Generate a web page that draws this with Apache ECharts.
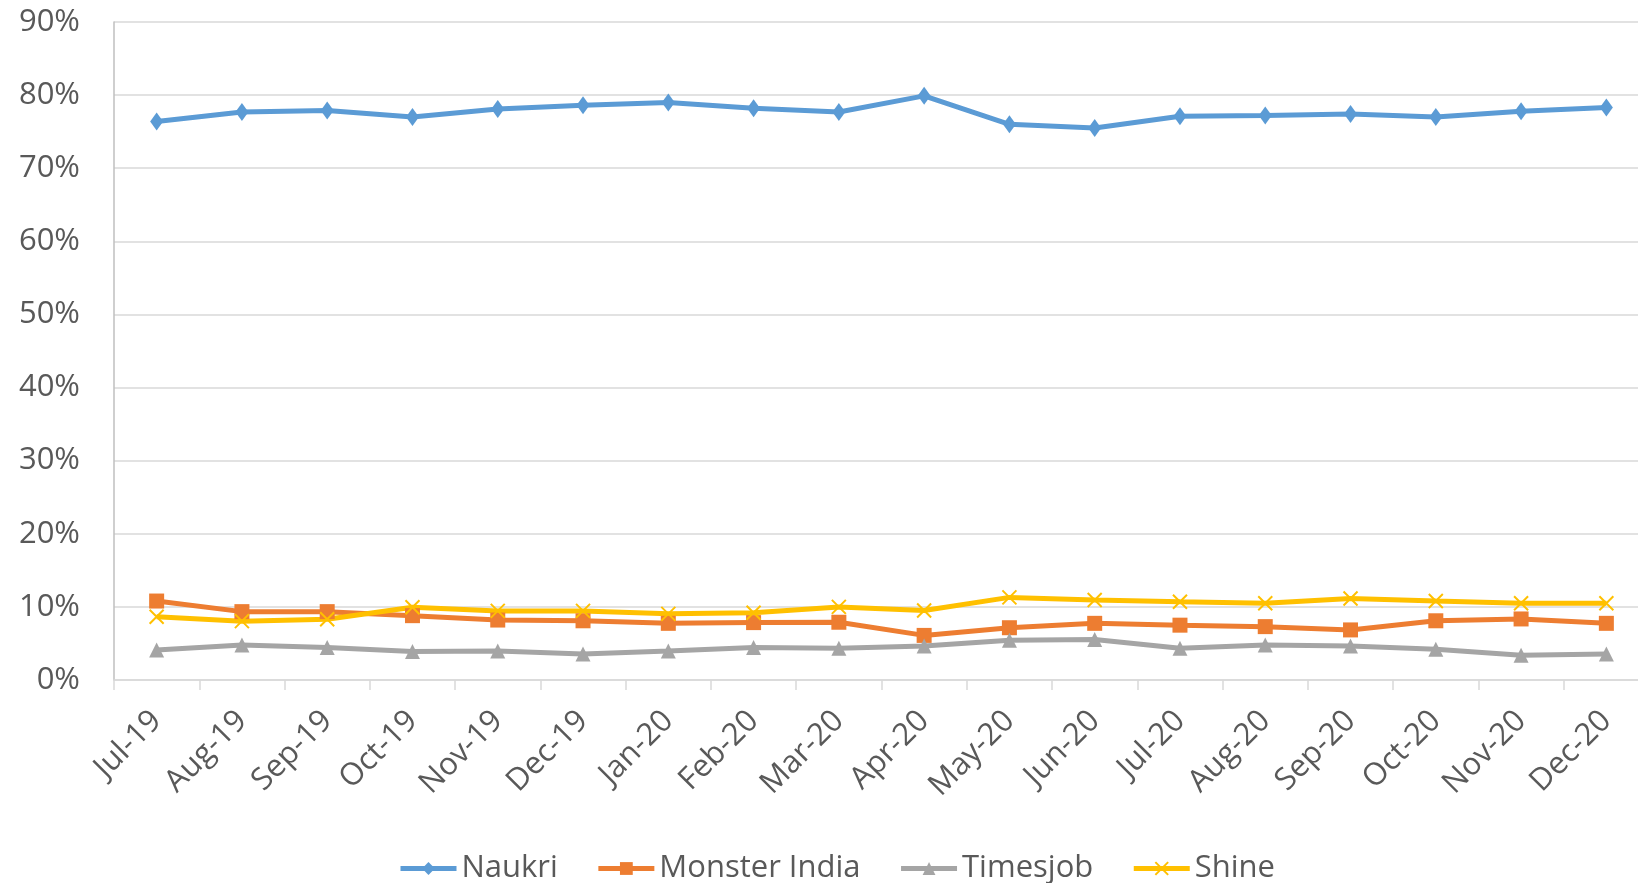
<!DOCTYPE html>
<html>
<head>
<meta charset="utf-8">
<script src="https://cdn.jsdelivr.net/npm/echarts@6/dist/echarts.min.js"></script>
<style>
  html, body { margin: 0; padding: 0; background: #fff; }
</style>
</head>
<body>
<div id="main" style="width: 1638px;height:883px;"></div>
<script type="text/javascript">
    // months along the x axis
    var months = ['Jul-19', 'Aug-19', 'Sep-19', 'Oct-19', 'Nov-19', 'Dec-19', 'Jan-20', 'Feb-20', 'Mar-20',
        'Apr-20', 'May-20', 'Jun-20', 'Jul-20', 'Aug-20', 'Sep-20', 'Oct-20', 'Nov-20', 'Dec-20'];

    // share per portal, in percent
    var naukri = [76.4, 77.7, 77.9, 77.0, 78.1, 78.6, 79.0, 78.2, 77.7, 79.9, 76.0, 75.5, 77.1, 77.2, 77.4, 77.0, 77.8, 78.3];
    var monsterIndia = [10.8, 9.35, 9.35, 8.8, 8.2, 8.1, 7.75, 7.85, 7.9, 6.1, 7.15, 7.75, 7.5, 7.3, 6.85, 8.1, 8.35, 7.75];
    var timesjob = [4.1, 4.8, 4.45, 3.9, 3.95, 3.55, 3.95, 4.45, 4.35, 4.65, 5.45, 5.55, 4.35, 4.8, 4.65, 4.2, 3.4, 3.55];
    var shine = [8.65, 8.05, 8.3, 9.95, 9.45, 9.45, 9.05, 9.2, 10.0, 9.5, 11.3, 10.95, 10.7, 10.5, 11.15, 10.8, 10.5, 10.5];

    var yTicks = [0, 10, 20, 30, 40, 50, 60, 70, 80, 90];

    var textColor = '#595959';
    var fontFamily = '"Open Sans", "Liberation Sans", sans-serif';

    var myChart = echarts.init(document.getElementById('main'));

    function makeSeries(name, data, color, symbol, size) {
        return {
            name: name,
            type: 'line',
            data: data,
            symbol: symbol,
            symbolSize: size,
            showAllSymbol: true,
            lineStyle: { color: color, width: 5 },
            itemStyle: { color: color, borderColor: color, borderWidth: symbol.indexOf('path') === 0 ? 2 : 0 },
            emphasis: { disabled: true }
        };
    }

    var option = {
        animation: false,
        textStyle: { fontFamily: fontFamily },
        // the plot runs a little past the right edge of the picture
        grid: { left: 114, top: 22, width: 1535, bottom: 203, containLabel: false, outerBoundsMode: 'none' },
        legend: {
            top: 848,
            left: 393,
            itemWidth: 56,
            itemHeight: 16,
            itemGap: 38,
            lineStyle: { width: 5 },
            textStyle: { color: textColor, fontSize: 31, fontFamily: fontFamily },
            data: ['Naukri', 'Monster India', 'Timesjob', 'Shine']
        },
        xAxis: {
            type: 'category',
            data: months,
            boundaryGap: true,
            axisLine: { lineStyle: { color: '#d9d9d9', width: 1.5 } },
            axisTick: { show: true, length: 10, lineStyle: { color: '#d9d9d9', width: 1.5 } },
            axisLabel: { rotate: 45, margin: 36, color: textColor, fontSize: 31, fontFamily: fontFamily, interval: 0 }
        },
        yAxis: {
            type: 'value',
            min: yTicks[0],
            max: yTicks[yTicks.length - 1],
            interval: 10,
            axisLine: { show: true, lineStyle: { color: '#bfbfbf', width: 1.5 } },
            axisTick: { show: false },
            splitLine: { lineStyle: { color: '#d9d9d9', width: 1.5 } },
            axisLabel: { formatter: '{value}%', margin: 34, color: textColor, fontSize: 31, fontFamily: fontFamily }
        },
        series: [
            makeSeries('Naukri', naukri, '#5B9BD5', 'diamond', [13, 18]),
            makeSeries('Monster India', monsterIndia, '#ED7D31', 'rect', 15),
            makeSeries('Timesjob', timesjob, '#A5A5A5', 'triangle', 15),
            makeSeries('Shine', shine, '#FFC000', 'path://M0,0L10,10M10,0L0,10', 14)
        ]
    };
    myChart.setOption(option);
</script>
</body>
</html>
